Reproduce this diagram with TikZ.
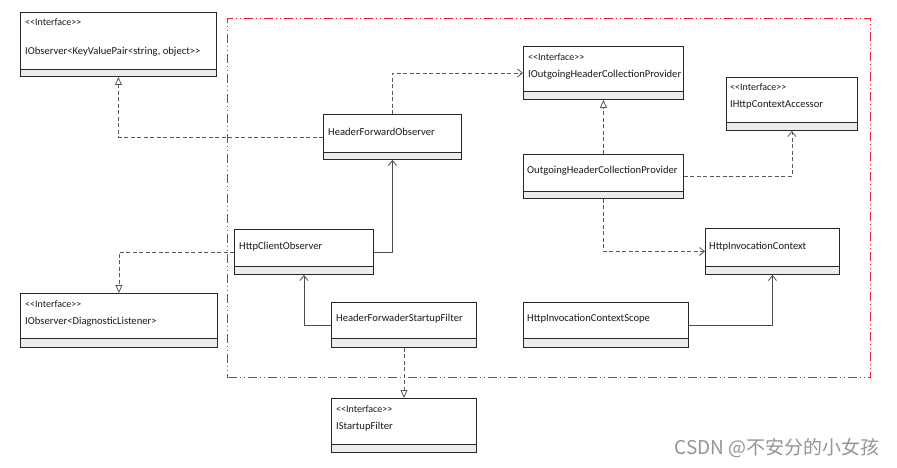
\documentclass[tikz,border=0pt]{standalone}
\usepackage{fontspec}
\newfontfamily\umlfont{Carlito}
\newfontfamily\cjk{Noto Sans CJK SC}
\usetikzlibrary{arrows.meta,calc}
\definecolor{framered}{RGB}{240,30,40}
\definecolor{compgray}{RGB}{236,236,236}
\newcommand\umlbox[6]{%
  \node[umlrect, minimum width=#4pt, minimum height=#5pt, anchor=north west] (#1) at (#2,#3) {};
  \draw[umlcomp] ([yshift=#6pt]#1.south west) rectangle (#1.south east);
}
\begin{document}
\begin{tikzpicture}[x=1pt,y=-1pt,
  umlrect/.style={draw=black!85, line width=0.9pt, fill=white, inner sep=0pt, rectangle},
  umlcomp/.style={draw=black!85, line width=0.9pt, fill=compgray},
  lbl/.style={anchor=west, inner sep=0pt, text=black!90, font=\umlfont\fontsize{10.6}{12}\selectfont},
  ster/.style={anchor=west, inner sep=0pt, text=black!90, font=\umlfont\fontsize{10}{11}\selectfont},
  dep/.style={draw=black!65, line width=0.8pt, dash pattern=on 4pt off 2.5pt},
  assoc/.style={draw=black!70, line width=0.8pt},
  realize/.style={-{Triangle[open,length=8pt,width=7pt,fill=white]}},
  nav/.style={-{Straight Barb[length=5pt,width=8pt]}},
  redframe/.style={draw=framered, line width=1.1pt, dash pattern=on 9pt off 3pt on 1pt off 3pt on 1pt off 3pt, inner sep=0pt, rectangle}
]
\useasboundingbox (0,0) rectangle (897,467);

% red frame
\node[redframe, minimum width=643pt, minimum height=359pt, anchor=north west] (frame) at (227,18) {};

% boxes
\umlbox{A}{20}{12}{196}{64}{7}
\umlbox{B}{523}{46}{160}{53}{8}
\umlbox{C}{726}{77}{131}{53}{8}
\umlbox{D}{323}{114}{138}{45}{7}
\umlbox{E}{523}{154}{160}{44}{7}
\umlbox{F}{234}{229}{139}{45}{8}
\umlbox{G}{20}{293}{197}{54}{9}
\umlbox{H}{331}{302}{145}{45}{9}
\umlbox{I}{705}{228}{134}{46}{8}
\umlbox{J}{523}{302}{165}{45}{9}
\umlbox{K}{331}{398}{145}{54}{8}

% texts
\node[ster] (As) at (25,22) {<<Interface>>};
\node[lbl]  (An) at (25,52) {IObserver<KeyValuePair<string, object>>};
\node[ster] (Bs) at (528,57) {<<Interface>>};
\node[lbl]  (Bn) at (528,75) {IOutgoingHeaderCollectionProvider};
\node[ster] (Cs) at (730,87) {<<Interface>>};
\node[lbl]  (Cn) at (730,105) {IHttpContextAccessor};
\node[lbl]  (Dn) at (328,132) {HeaderForwardObserver};
\node[lbl]  (En) at (527,171) {OutgoingHeaderCollectionProvider};
\node[lbl]  (Fn) at (239,247) {HttpClientObserver};
\node[ster] (Gs) at (25,304) {<<Interface>>};
\node[lbl]  (Gn) at (25,322) {IObserver<DiagnosticListener>};
\node[lbl]  (Hn) at (336,319) {HeaderForwaderStartupFilter};
\node[lbl]  (In) at (709,247) {HttpInvocationContext};
\node[lbl]  (Jn) at (527,319) {HttpInvocationContextScope};
\node[ster] (Ks) at (336,409) {<<Interface>>};
\node[lbl]  (Kn) at (336,427) {IStartupFilter};

% connectors
\draw[dep, realize] (D.west) -| (A.south);
\draw[dep, nav] (D.north) |- (B.west);
\draw[dep, realize] (E.north) -- (B.south);
\draw[dep, nav] (E.east) -| (C.south);
\draw[dep, nav] (E.south) |- (I.west);
\draw[assoc, nav] (F.east) -| (D.south);
\draw[assoc, nav] (H.west) -| (F.south);
\draw[dep, realize] (F.west) -| (G.north);
\draw[dep, realize] (H.south) -- (K.north);
\draw[assoc, nav] (J.east) -| (I.south);

% watermark
\node[anchor=east, inner sep=0pt, text=black!42, font=\cjk\fontsize{19}{21}\selectfont] (wm) at (880,448) {CSDN @不安分的小女孩};
\end{tikzpicture}
\end{document}
